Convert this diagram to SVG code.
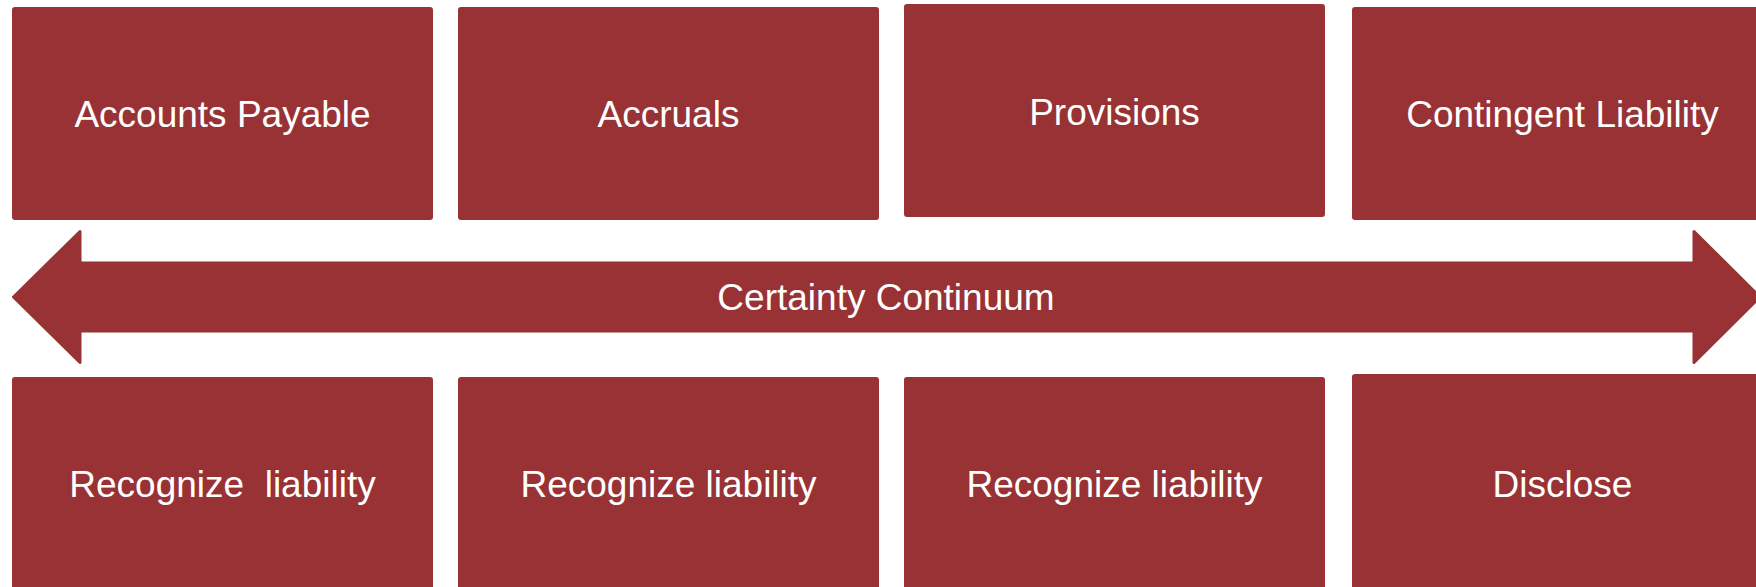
<svg xmlns="http://www.w3.org/2000/svg" width="1756" height="587" viewBox="0 0 1756 587">
<style>
.box{fill:#983234;}
.lbl{fill:#ffffff;font-family:"Liberation Sans",Arial,sans-serif;font-size:37px;text-anchor:middle;}
.arrow{fill:#983234;stroke:#983234;stroke-width:3;stroke-linejoin:round;}
</style>
<rect width="1756" height="587" fill="#ffffff"/>
<g id="connectors">
<g id="continuum">
<path class="arrow" d="M13.5,297 L80,231.5 L80,263 L1694,263 L1694,231.5 L1760,297 L1694,362.5 L1694,331 L80,331 L80,362.5 Z"/>
<text class="lbl" x="886" y="310">Certainty Continuum</text>
</g>
</g>
<g id="n1"><rect class="box" x="12" y="7" width="421" height="213" rx="3"/><text class="lbl" x="222.5" y="127">Accounts Payable</text></g>
<g id="n2"><rect class="box" x="458" y="7" width="421" height="213" rx="3"/><text class="lbl" x="668.5" y="127">Accruals</text></g>
<g id="n3"><rect class="box" x="904" y="4" width="421" height="213" rx="3"/><text class="lbl" x="1114.5" y="125">Provisions</text></g>
<g id="n4"><rect class="box" x="1352" y="7" width="421" height="213" rx="3"/><text class="lbl" x="1562.5" y="127">Contingent Liability</text></g>
<g id="n5"><rect class="box" x="12" y="377" width="421" height="213" rx="3"/><text class="lbl" x="222.5" y="497" xml:space="preserve">Recognize  liability</text></g>
<g id="n6"><rect class="box" x="458" y="377" width="421" height="213" rx="3"/><text class="lbl" x="668.5" y="497">Recognize liability</text></g>
<g id="n7"><rect class="box" x="904" y="377" width="421" height="213" rx="3"/><text class="lbl" x="1114.5" y="497">Recognize liability</text></g>
<g id="n8"><rect class="box" x="1352" y="374" width="421" height="216" rx="3"/><text class="lbl" x="1562.5" y="497">Disclose</text></g>
</svg>
